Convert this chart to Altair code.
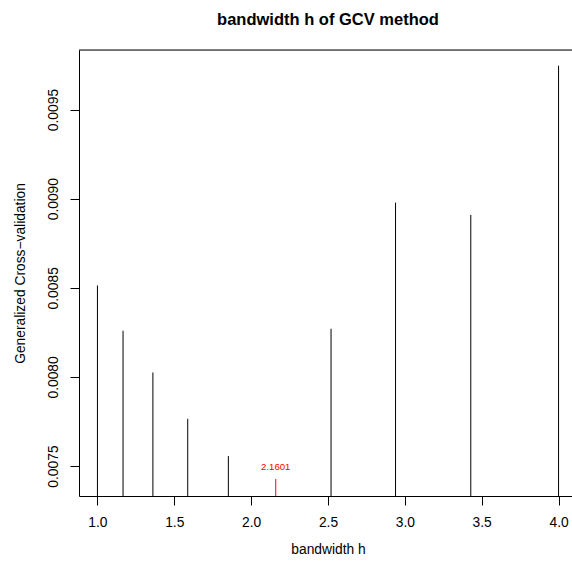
import altair as alt
import pandas as pd

# bandwidth grid and GCV values
bandwidth = [1.0, 1.1665, 1.3608, 1.5874, 1.8517, 2.1601, 2.5198, 2.9394, 3.4290, 4.0]
gcv = [0.008513, 0.008259, 0.008025, 0.007765, 0.007556, 0.007427, 0.008270, 0.008978, 0.008909, 0.009746]
x_ticks = [1.0, 1.5, 2.0, 2.5, 3.0, 3.5, 4.0]
y_ticks = [0.0075, 0.0080, 0.0085, 0.0090, 0.0095]
best_h = 2.1601
best_label = "2.1601"

df = pd.DataFrame({"h": bandwidth, "gcv": gcv})
df["best"] = df["h"] == best_h
best_df = df[df["best"]].copy()
best_df["label"] = best_label

W, H = 493, 446
FONT = "Liberation Sans"

xscale = alt.Scale(domain=[0.88, 4.0875], nice=False, zero=False)
yscale = alt.Scale(domain=[0.007332, 0.009834], nice=False, zero=False)

xaxis = alt.Axis(values=x_ticks, format=".1f", grid=False, tickSize=9, tickColor="black",
                 domainColor="black", labelFont=FONT, labelFontSize=13.8, labelColor="black",
                 labelPadding=10, labelBaseline="top",
                 title="bandwidth h", titleFont=FONT, titleFontSize=13.8, titleFontWeight="normal",
                 titleColor="black", titleX=249, titleY=57, titleBaseline="alphabetic",
                 titleAlign="center", labelFlush=False, labelOverlap=False)
yaxis = alt.Axis(values=y_ticks, format=".4f", grid=False, tickSize=9, tickColor="black",
                 domainColor="black", labelFont=FONT, labelFontSize=13.8, labelColor="black",
                 labelAngle=270, labelAlign="center", labelBaseline="alphabetic", labelPadding=13,
                 title="Generalized Cross\u2212validation", titleFont=FONT, titleFontSize=13.8,
                 titleFontWeight="normal", titleColor="black", titleAngle=270, titleX=-55, titleY=223,
                 titleBaseline="alphabetic", titleAlign="center", labelFlush=False, labelOverlap=False)

base = alt.Chart(df)

spikes = base.mark_rule(strokeWidth=1).encode(
    x=alt.X("h:Q", scale=xscale, axis=xaxis),
    y=alt.Y("gcv:Q", scale=yscale, axis=yaxis),
    y2=alt.value(H),
    color=alt.condition("datum.best", alt.value("#ff0000"), alt.value("black")),
)

label = alt.Chart(best_df).mark_text(color="#ff0000", font=FONT, fontSize=9.6, dy=-12,
                                     baseline="middle", align="center").encode(
    x=alt.X("h:Q", scale=xscale),
    y=alt.Y("gcv:Q", scale=yscale),
    text="label:N",
)

top_border = alt.Chart(pd.DataFrame({"a": [0]})).mark_rule(color="black", strokeWidth=1).encode(
    x=alt.value(0), x2=alt.value(W), y=alt.value(0)
)

chart = alt.layer(spikes, label, top_border).properties(
    width=W, height=H,
    autosize=alt.AutoSizeParams(type="none"),
    padding={"left": 79, "top": 50, "right": 0, "bottom": 73},
    title=alt.TitleParams("bandwidth h of GCV method", font=FONT, fontSize=16.5, fontWeight="bold",
                          color="black", anchor="middle", dx=2.5, offset=8, baseline="alphabetic"),
).configure_view(stroke=None).configure(background="white")

chart.save("out.html", embed_options={"renderer": "svg", "actions": False})
